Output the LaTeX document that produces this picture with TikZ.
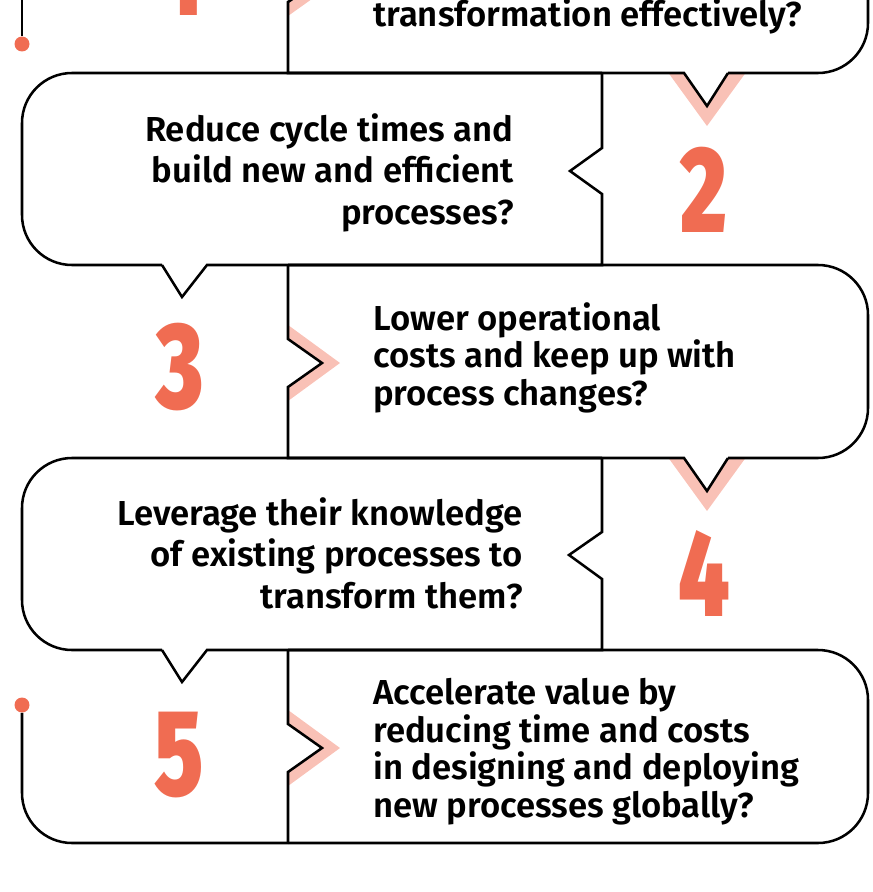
\documentclass[tikz,border=0pt]{standalone}
\usepackage{fontspec}
\usepackage{graphicx}
\setmainfont{Fira Sans}[BoldFont={* SemiBold}]
\newfontfamily\numfont{Fira Sans}[UprightFont={* Black}]
\definecolor{numorange}{RGB}{240,108,82}
\definecolor{tailpink}{RGB}{249,193,182}

\begin{document}
\begin{tikzpicture}[x=0.75pt,y=0.75pt,yscale=-1,xscale=1,
  bubble/.style={line width=1.9pt},
  band/.style={fill=tailpink, draw=none},
  qleft/.style={anchor=base west, align=left, inner sep=0pt, font=\fontsize{26pt}{28.1pt}\selectfont\bfseries},
  qright/.style={anchor=base east, align=right, inner sep=0pt, font=\fontsize{26pt}{31.1pt}\selectfont\bfseries},
  num/.style={anchor=base, inner sep=0pt, text=numorange, font=\fontsize{92pt}{92pt}\numfont},
  dot/.style={circle, fill=numorange, inner sep=0pt, minimum size=11.25pt}]

\useasboundingbox (0,0) rectangle (873,892);

\fill[band] (668.5,73) -- (707,126) -- (745.5,73) -- (728,73) -- (707,106) -- (684,73) -- cycle;
\fill[band] (668.5,458) -- (707,511) -- (745.5,458) -- (728,458) -- (707,491) -- (684,458) -- cycle;
\fill[band] (288,-58) -- (340,-21) -- (288,16) -- (288,2) -- (322,-21) -- (288,-44) -- cycle;
\fill[band] (288,325) -- (340,363) -- (288,401) -- (288,387) -- (322,363) -- (288,339) -- cycle;
\fill[band] (288,710) -- (340,748) -- (288,786) -- (288,772) -- (322,748) -- (288,724) -- cycle;

\draw[bubble, rounded corners=37.5pt] (728,73) -- (868,73) -- (868,-119) -- (288,-119);
\draw[bubble] (728,73) -- (707,106) -- (684,73) -- (288,73) -- (288,2) -- (322,-21) -- (288,-44) -- (288,-119);

\draw[bubble, rounded corners=37.5pt] (162,265) -- (22,265) -- (22,73) -- (602,73);
\draw[bubble] (162,265) -- (182,297) -- (207,265) -- (602,265) -- (602,194) -- (570,171) -- (602,148) -- (602,73);

\draw[bubble, rounded corners=37.5pt] (728,458) -- (868,458) -- (868,265) -- (288,265);
\draw[bubble] (728,458) -- (707,491) -- (684,458) -- (288,458) -- (288,387) -- (322,363) -- (288,339) -- (288,265);

\draw[bubble, rounded corners=37.5pt] (162,650) -- (22,650) -- (22,458) -- (602,458);
\draw[bubble] (162,650) -- (182,682) -- (207,650) -- (602,650) -- (602,579) -- (569,555) -- (602,532) -- (602,458);

\draw[bubble, rounded corners=37.5pt] (288,650) -- (868,650) -- (868,843) -- (288,843);
\draw[bubble] (288,843) -- (288,772) -- (322,748) -- (288,724) -- (288,650);

\node (dotTop) [dot] at (22,44) {};
\draw[bubble] (22,-10) -- (dotTop);
\node (dotBottom) [dot] at (22,705) {};
\draw[bubble, rounded corners=37.5pt] (dotBottom) -- (22,843) -- (288,843);

\node (numA) [num] at (182,16) {\scalebox{0.72}[1]{1}};
\node (numB) [num] at (704,232) {\scalebox{0.72}[1]{2}};
\node (numC) [num] at (179.5,408) {\scalebox{0.72}[1]{3}};
\node (numD) [num] at (704,616) {\scalebox{0.72}[1]{4}};
\node (numE) [num] at (179.5,795) {\scalebox{0.72}[1]{5}};

\node (qA) [qleft] at (373,27) {transformation effectively?};
\node (qB) [qright] at (514,224) {Reduce cycle times and\\build new and efficient\\processes?};
\node (qC) [qleft] at (373,405) {Lower operational\\costs and keep up with\\process changes?};
\node (qD) [qright] at (523,608) {Leverage their knowledge\\of existing processes to\\transform them?};
\node (qE) [qleft] at (373,817) {Accelerate value by\\reducing time and costs\\in designing and deploying\\new processes globally?};
\end{tikzpicture}
\end{document}
